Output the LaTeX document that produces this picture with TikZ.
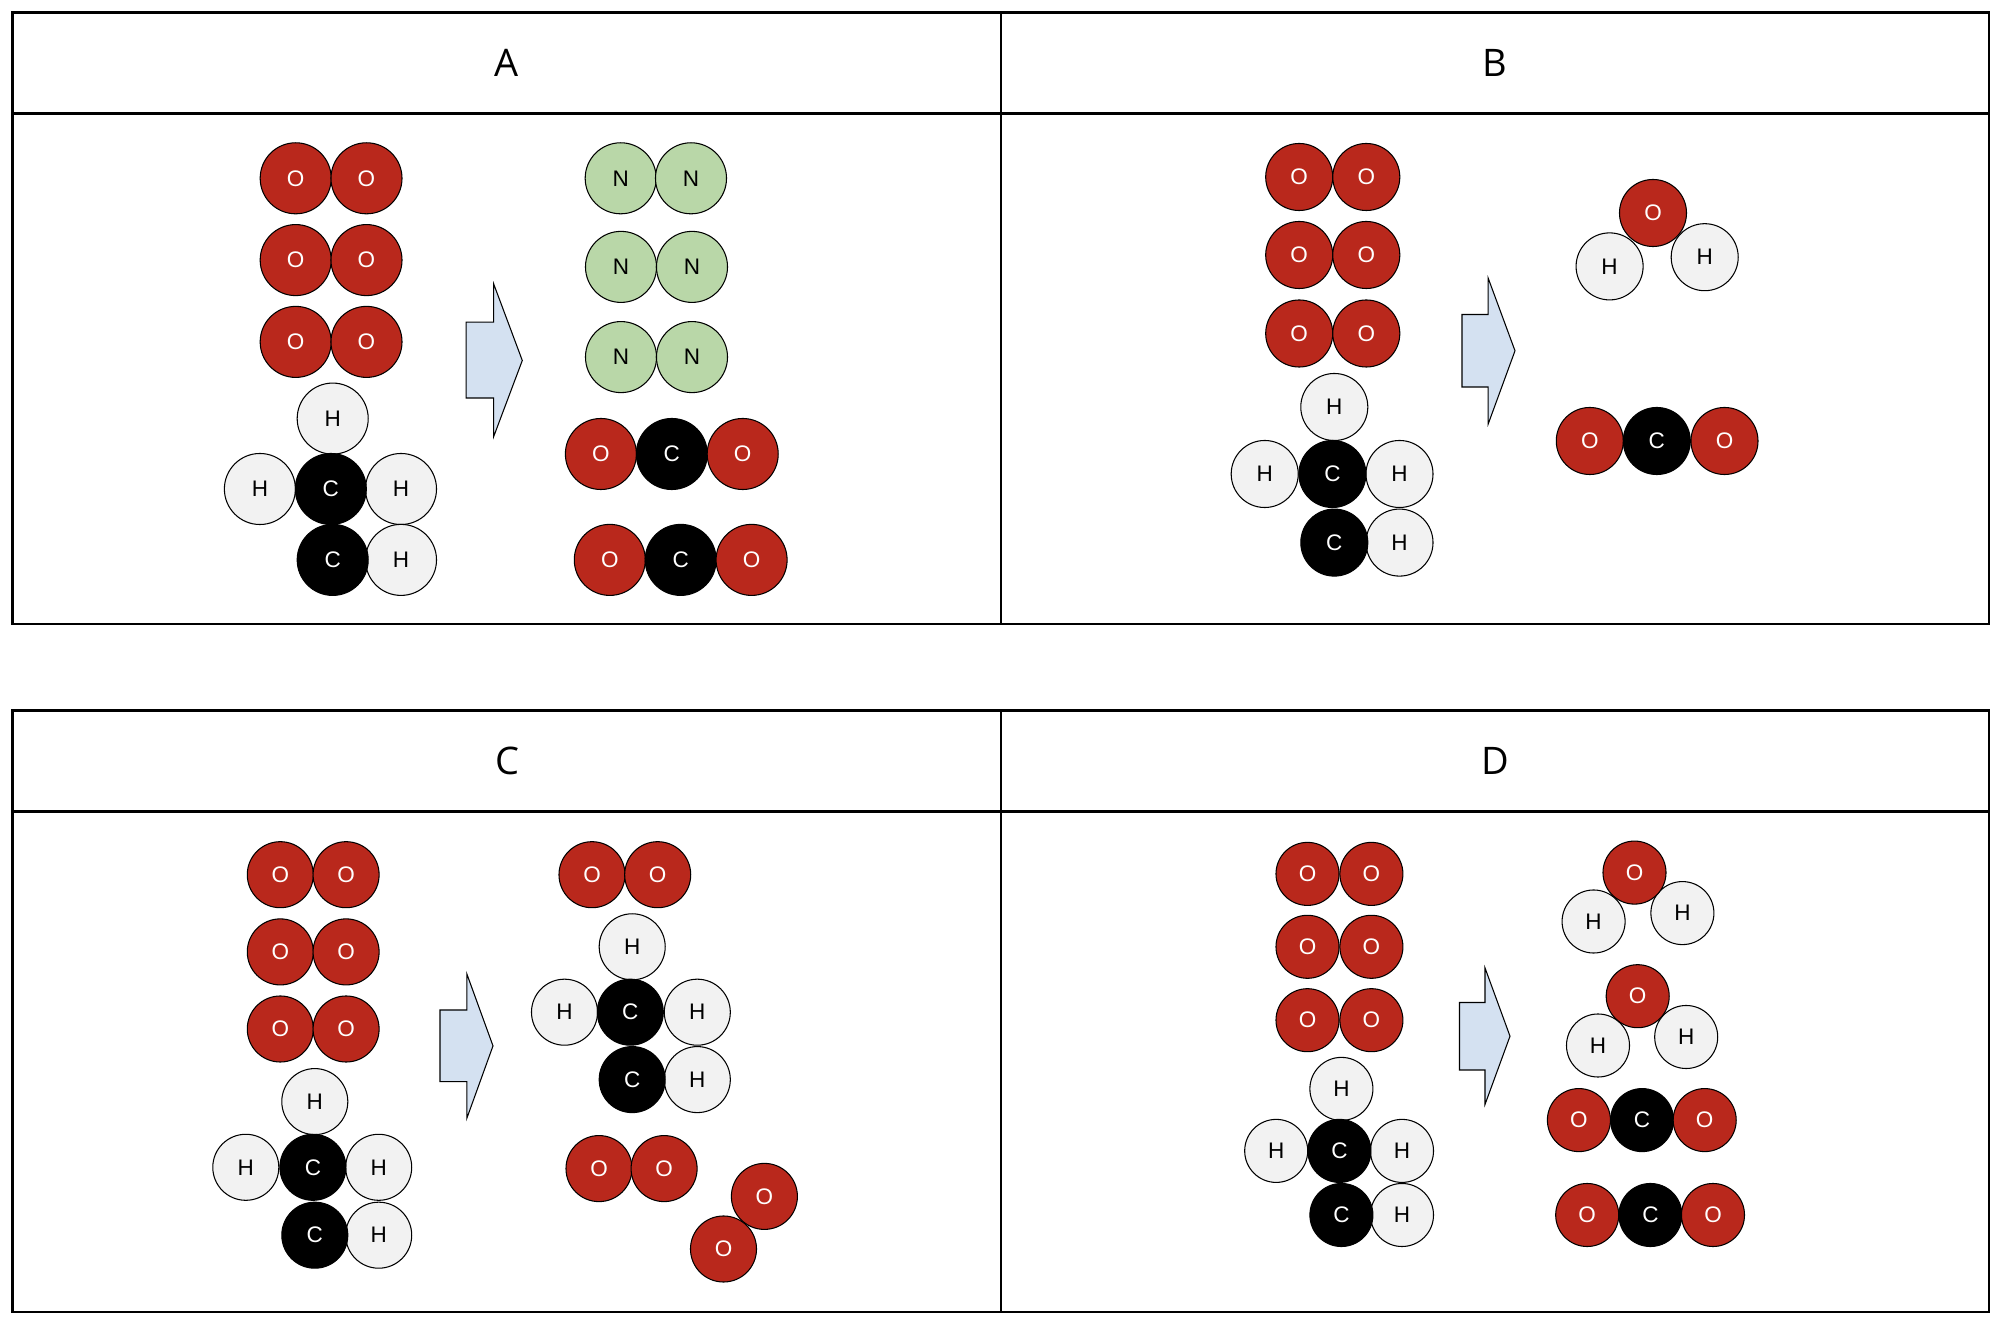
\documentclass[tikz,border=0pt]{standalone}
\usepackage{fontspec}
\setmainfont{Liberation Sans}
\newfontfamily\titlefont{Open Sans}
\definecolor{oxred}{HTML}{B9281C}
\definecolor{hwhite}{HTML}{F2F2F2}
\definecolor{nitgreen}{HTML}{B9D7A8}
\definecolor{arrowblue}{HTML}{D4E1F1}
\begin{document}
\begin{tikzpicture}[x = 0.01cm, y = -0.01cm, line width = 0.3pt,
                    atom/.style = {circle, draw, inner sep = 0pt, font = \fontsize{6.4}{7.5}\selectfont},
                    ox/.style = {atom, fill = oxred, text = white},
                    hy/.style = {atom, fill = hwhite},
                    cb/.style = {atom, fill = black, text = white},
                    ni/.style = {atom, fill = nitgreen},
                    frame/.style = {draw, line width = 0.75pt},
                    title/.style = {font = \titlefont\fontsize{10.8}{13}\selectfont},
                    turn/.style = {draw, fill = arrowblue, line width = 0.3pt}]
      \useasboundingbox (0, 0) rectangle (2002, 1322);

      % frames
      \draw [frame] (12.8, 12.8) rectangle (1989, 624);
      \draw [frame] (12.8, 113.6) -- (1989, 113.6);
      \draw [frame] (1001, 12.8) -- (1001, 624);
      \draw [frame] (12.8, 710.3) rectangle (1989, 1312);
      \draw [frame] (12.8, 811.5) -- (1989, 811.5);
      \draw [frame] (1001, 710.3) -- (1001, 1312);

      \node [title] (ta) at (507, 63){A};
      \node [title] (tb) at (1495, 63){B};
      \node [title] (tc) at (507, 761){C};
      \node [title] (td) at (1495, 761){D};

      % A
      \begin{scope}[every node/.append style = {minimum size = 0.71cm}]
      \node [ox] (ao1) at (295.7, 178.3){O};
      \node [ox] (ao2) at (366.5, 178.3){O};
      \node [ox] (ao3) at (295.7, 260.1){O};
      \node [ox] (ao4) at (366.5, 260.1){O};
      \node [ox] (ao5) at (295.7, 341.9){O};
      \node [ox] (ao6) at (366.5, 341.9){O};
      \node [hy] (ah1) at (332.7, 418.6){H};
      \node [hy] (ah2) at (259.9, 489){H};
      \node [hy] (ah3) at (401, 489){H};
      \node [hy] (ah4) at (401, 559.9){H};
      \node [cb] (ac1) at (330.8, 489){C};
      \node [cb] (ac2) at (332.7, 559.9){C};

      \draw [turn] (466.2, 322.1) -- (493.6, 322.1) -- (493.6, 283.7) -- (522.3, 360.5)
            -- (493.6, 436.8) -- (493.6, 398) -- (466.2, 398) -- cycle;

      \node [ni] (an1) at (620.7, 178.3){N};
      \node [ni] (an2) at (691, 178.3){N};
      \node [ni] (an3) at (621, 266.9){N};
      \node [ni] (an4) at (692, 266.9){N};
      \node [ni] (an5) at (621, 357.1){N};
      \node [ni] (an6) at (692, 357.1){N};
      \node [ox] (ap1) at (600.9, 454){O};
      \node [cb] (ap2) at (671.8, 454){C};
      \node [ox] (ap3) at (742.7, 454){O};
      \node [ox] (ap4) at (609.8, 559.9){O};
      \node [cb] (ap5) at (680.7, 559.9){C};
      \node [ox] (ap6) at (751.6, 559.9){O};
      \end{scope}

      % B
      \begin{scope}[every node/.append style = {minimum size = 0.67cm}]
      \node [ox] (bo1) at (1299.2, 177){O};
      \node [ox] (bo2) at (1366.3, 177){O};
      \node [ox] (bo3) at (1299.2, 255){O};
      \node [ox] (bo4) at (1366.3, 255){O};
      \node [ox] (bo5) at (1299.2, 333.5){O};
      \node [ox] (bo6) at (1366.3, 333.5){O};
      \node [hy] (bh1) at (1334.3, 407){H};
      \node [hy] (bh2) at (1264.7, 474){H};
      \node [hy] (bh3) at (1399.5, 474){H};
      \node [hy] (bh4) at (1399.5, 542.6){H};
      \node [cb] (bc1) at (1332.4, 474){C};
      \node [cb] (bc2) at (1334.3, 542.6){C};

      \draw [turn] (1462, 314.5) -- (1488.2, 314.5) -- (1488.2, 278.2) -- (1515, 350.8)
            -- (1488.2, 424) -- (1488.2, 387) -- (1462, 387) -- cycle;

      \node [hy] (bw2) at (1609.6, 266.4){H};
      \node [hy] (bw3) at (1704.7, 257.2){H};
      \node [ox] (bw1) at (1653, 213){O};
      \node [ox] (bp1) at (1589.8, 441){O};
      \node [cb] (bp2) at (1656.8, 441){C};
      \node [ox] (bp3) at (1724.5, 441){O};
      \end{scope}

      % C
      \begin{scope}[every node/.append style = {minimum size = 0.66cm}]
      \node [ox] (co1) at (280.3, 874.7){O};
      \node [ox] (co2) at (346.1, 874.7){O};
      \node [ox] (co3) at (280.3, 951.9){O};
      \node [ox] (co4) at (346.1, 951.9){O};
      \node [ox] (co5) at (280.3, 1029){O};
      \node [ox] (co6) at (346.1, 1029){O};
      \node [hy] (ch1) at (314.8, 1101.6){H};
      \node [hy] (ch2) at (245.8, 1167.3){H};
      \node [hy] (ch3) at (378.7, 1167.3){H};
      \node [hy] (ch4) at (378.7, 1235.2){H};
      \node [cb] (cc1) at (312.9, 1167.3){C};
      \node [cb] (cc2) at (314.8, 1235.2){C};

      \draw [turn] (440, 1010) -- (466.8, 1010) -- (466.8, 973.8) -- (493, 1045.9)
            -- (466.8, 1118.4) -- (466.8, 1081.7) -- (440, 1081.7) -- cycle;

      \node [ox] (cp1) at (592, 874.7){O};
      \node [ox] (cp2) at (657.7, 874.7){O};
      \node [hy] (cq1) at (632.2, 946.8){H};
      \node [hy] (cq2) at (564.5, 1012.2){H};
      \node [hy] (cq3) at (697.3, 1012.2){H};
      \node [hy] (cq4) at (697.3, 1079.6){H};
      \node [cb] (cq5) at (630.3, 1012.2){C};
      \node [cb] (cq6) at (632.2, 1079.6){C};
      \node [ox] (cp3) at (599, 1168.6){O};
      \node [ox] (cp4) at (664.1, 1168.6){O};
      \node [ox] (cp5) at (764.4, 1196.4){O};
      \node [ox] (cp6) at (723.5, 1249){O};
      \end{scope}

      % D
      \begin{scope}[every node/.append style = {minimum size = 0.63cm}]
      \node [ox] (do1) at (1307.5, 873.9){O};
      \node [ox] (do2) at (1371.4, 873.9){O};
      \node [ox] (do3) at (1307.5, 946.8){O};
      \node [ox] (do4) at (1371.4, 946.8){O};
      \node [ox] (do5) at (1307.5, 1020.2){O};
      \node [ox] (do6) at (1371.4, 1020.2){O};
      \node [hy] (dh1) at (1341.4, 1088.9){H};
      \node [hy] (dh2) at (1276.2, 1150.9){H};
      \node [hy] (dh3) at (1402, 1150.9){H};
      \node [hy] (dh4) at (1402, 1215){H};
      \node [cb] (dc1) at (1339.4, 1150.9){C};
      \node [cb] (dc2) at (1341.4, 1215){C};

      \draw [turn] (1459.5, 1002.5) -- (1485, 1002.5) -- (1485, 967.9) -- (1510, 1036.2)
            -- (1485, 1104.5) -- (1485, 1070) -- (1459.5, 1070) -- cycle;

      \node [hy] (dw2) at (1593.6, 921.5){H};
      \node [hy] (dw3) at (1682.4, 913.1){H};
      \node [ox] (dw1) at (1634.5, 872.6){O};
      \node [hy] (dv2) at (1598, 1045.5){H};
      \node [hy] (dv3) at (1686.2, 1037){H};
      \node [ox] (dv1) at (1637.7, 996.2){O};
      \node [ox] (dp1) at (1578.9, 1120.1){O};
      \node [cb] (dp2) at (1642.1, 1120.1){C};
      \node [ox] (dp3) at (1704.7, 1120.1){O};
      \node [ox] (dp4) at (1587.2, 1215){O};
      \node [cb] (dp5) at (1650.4, 1215){C};
      \node [ox] (dp6) at (1713, 1215){O};
      \end{scope}
\end{tikzpicture}
\end{document}
